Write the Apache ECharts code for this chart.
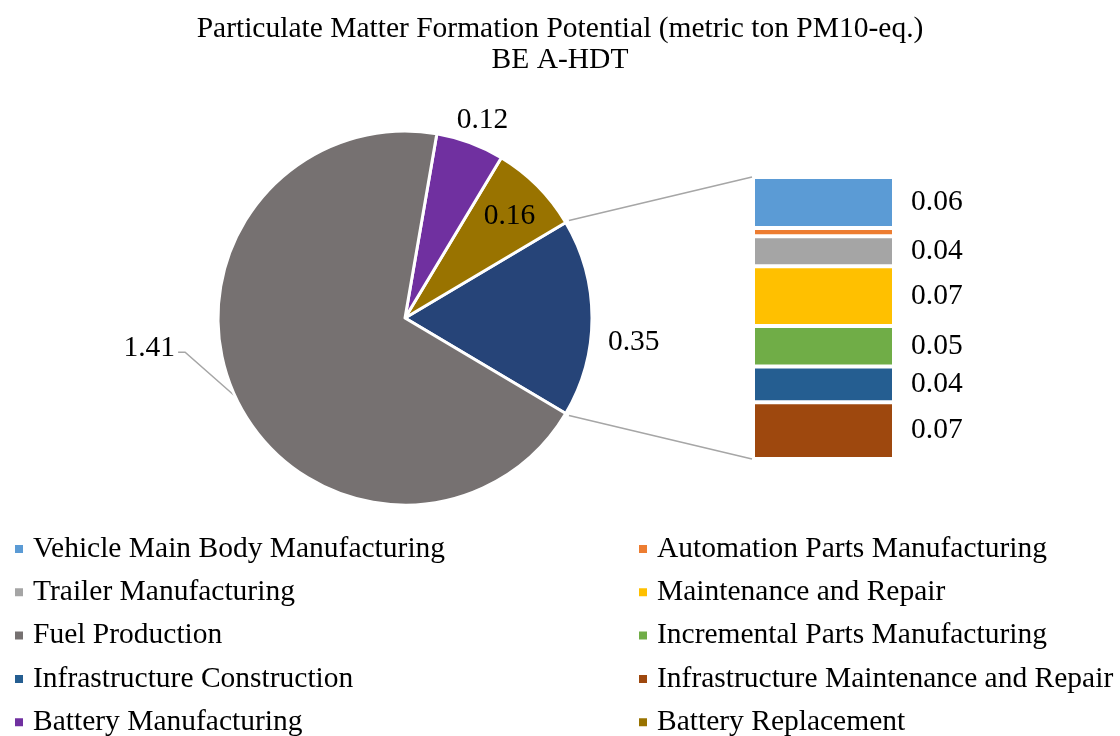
<!DOCTYPE html>
<html>
<head>
<meta charset="utf-8">
<title>Particulate Matter Formation Potential</title>
<script src="https://cdn.jsdelivr.net/npm/echarts@6/dist/echarts.min.js"></script>
<style>
  html, body { margin: 0; padding: 0; background: #fff; }
  #main { width: 1120px; height: 736px; }
</style>
</head>
<body>
<div id="main"></div>
<script>
// pie part (values in metric ton PM10-eq.)
const pieNames = ['Battery Replacement', 'Battery Manufacturing', 'Fuel Production']
const pieValues = [0.16, 0.12, 1.41]
const pieColors = ['#997300', '#7030A0', '#767171']

// the "other" slice, broken out into the stacked bar on the right
const barNames = [
  'Vehicle Main Body Manufacturing',
  'Automation Parts Manufacturing',
  'Trailer Manufacturing',
  'Maintenance and Repair',
  'Incremental Parts Manufacturing',
  'Infrastructure Construction',
  'Infrastructure Maintenance and Repair'
]
const barValues = [0.063, 0.010, 0.037, 0.074, 0.050, 0.044, 0.070]
const barColors = ['#5B9BD5', '#ED7D31', '#A5A5A5', '#FFC000', '#70AD47', '#255E91', '#9E480E']

const legendLeft = ['Vehicle Main Body Manufacturing', 'Trailer Manufacturing', 'Fuel Production',
  'Infrastructure Construction', 'Battery Manufacturing']
const legendRight = ['Automation Parts Manufacturing', 'Maintenance and Repair', 'Incremental Parts Manufacturing',
  'Infrastructure Maintenance and Repair', 'Battery Replacement']

const FONT = "'Liberation Serif', 'Times New Roman', serif"
const FS = 29.5
const CX = 405, CY = 318, R = 187

const otherValue = barValues.reduce((a, b) => a + b, 0)
const pieTotal = otherValue + pieValues.reduce((a, b) => a + b, 0)
const otherAngle = otherValue / pieTotal * 360
const startAngle = -otherAngle / 2

// pie data: "Other" first so it sits centred on the right
let pieData = [{ name: 'Other', value: otherValue, itemStyle: { color: '#264478' } }]
pieNames.forEach((n, i) => {
  pieData.push({ name: n, value: pieValues[i], itemStyle: { color: pieColors[i] } })
})

// mid angle of every slice (counter clockwise from startAngle)
let midAngles = []
let acc = startAngle
pieData.forEach(d => {
  let a = d.value / pieTotal * 360
  midAngles.push(acc + a / 2)
  acc += a
})

function pt (angle, k) {
  let rad = angle * Math.PI / 180
  return [CX + k * R * Math.cos(rad), CY - k * R * Math.sin(rad)]
}

// label placement like excel: [angle shift from mid, radius factor]
const labelPlace = [[-6, 1.23], [-0.6, 0.78], [-1, 1.136], [-18.1, 1.39]]

let barSeries = barNames.map((n, i) => ({
  name: n,
  type: 'bar',
  stack: 'other',
  barWidth: '100%',
  xAxisIndex: 0,
  yAxisIndex: 0,
  data: [barValues[i]],
  itemStyle: { color: barColors[i], borderColor: '#fff', borderWidth: 2 },
  label: {
    show: barValues[i] >= 0.02,
    position: 'right',
    distance: 17,
    color: '#000',
    fontFamily: FONT,
    fontSize: FS,
    formatter: p => p.value.toFixed(2)
  }
}))

let legendBase = {
  orient: 'vertical',
  icon: 'rect',
  itemWidth: 10,
  itemHeight: 10,
  itemGap: 13.3,
  padding: 0,
  top: 534,
  height: 260,
  selectedMode: false,
  textStyle: { fontFamily: FONT, fontSize: FS, color: '#000', lineHeight: 30, padding: [0, 0, 0, 4] }
}

let chart = echarts.init(document.getElementById('main'))
chart.setOption({
  animation: false,
  title: {
    text: 'Particulate Matter Formation Potential (metric ton PM10-eq.)\nBE A-HDT',
    left: 'center',
    top: 9,
    textStyle: { fontFamily: FONT, fontSize: FS, fontWeight: 'normal', color: '#000', lineHeight: 31 }
  },
  legend: [
    Object.assign({}, legendBase, { left: 13, data: legendLeft }),
    Object.assign({}, legendBase, { left: 637, data: legendRight })
  ],
  grid: { left: 753, top: 177, width: 141, height: 282 },
  xAxis: { type: 'category', data: [''], show: false },
  yAxis: { type: 'value', min: 0, max: otherValue, inverse: true, show: false },
  series: [
    {
      type: 'pie',
      center: [CX, CY],
      radius: R,
      startAngle: startAngle,
      clockwise: false,
      avoidLabelOverlap: false,
      itemStyle: { borderColor: '#fff', borderWidth: 3 },
      label: {
        show: true,
        position: 'outside',
        color: '#000',
        fontFamily: FONT,
        fontSize: FS,
        formatter: p => p.value.toFixed(2)
      },
      labelLine: { show: false, lineStyle: { color: '#A6A6A6', width: 1.5 } },
      labelLayout: function (p) {
        let i = p.dataIndex
        let place = labelPlace[i]
        if (pieData[i].name === 'Fuel Production') {
          let edge = pt(midAngles[i], 1)
          let knee = pt(midAngles[i] + 2.2 + place[0], 1.19)
          return {
            x: knee[0] - 10,
            y: knee[1] - 4,
            align: 'right',
            verticalAlign: 'middle',
            labelLinePoints: [edge, knee, [knee[0] - 7, knee[1]]]
          }
        }
        let c = pt(midAngles[i] + place[0], place[1])
        return { x: c[0], y: c[1], align: 'center', verticalAlign: 'middle' }
      },
      data: pieData.map((d, i) => Object.assign({}, d, {
        labelLine: { show: d.name === 'Fuel Production' }
      }))
    }
  ].concat(barSeries)
})

// connector lines from the "other" slice to the bar
let xMid = chart.convertToPixel({ xAxisIndex: 0 }, 0)
let barLeft = xMid - 141 / 2
let yTop = chart.convertToPixel({ yAxisIndex: 0 }, 0)
let yBot = chart.convertToPixel({ yAxisIndex: 0 }, otherValue)
let p1 = pt(otherAngle / 2, 1.02)
let p2 = pt(-otherAngle / 2, 1.02)
chart.setOption({
  graphic: [
    { type: 'line', shape: { x1: p1[0], y1: p1[1], x2: barLeft - 1, y2: yTop }, style: { stroke: '#A6A6A6', lineWidth: 1.5 } },
    { type: 'line', shape: { x1: p2[0], y1: p2[1], x2: barLeft - 1, y2: yBot }, style: { stroke: '#A6A6A6', lineWidth: 1.5 } }
  ]
})
</script>
</body>
</html>
